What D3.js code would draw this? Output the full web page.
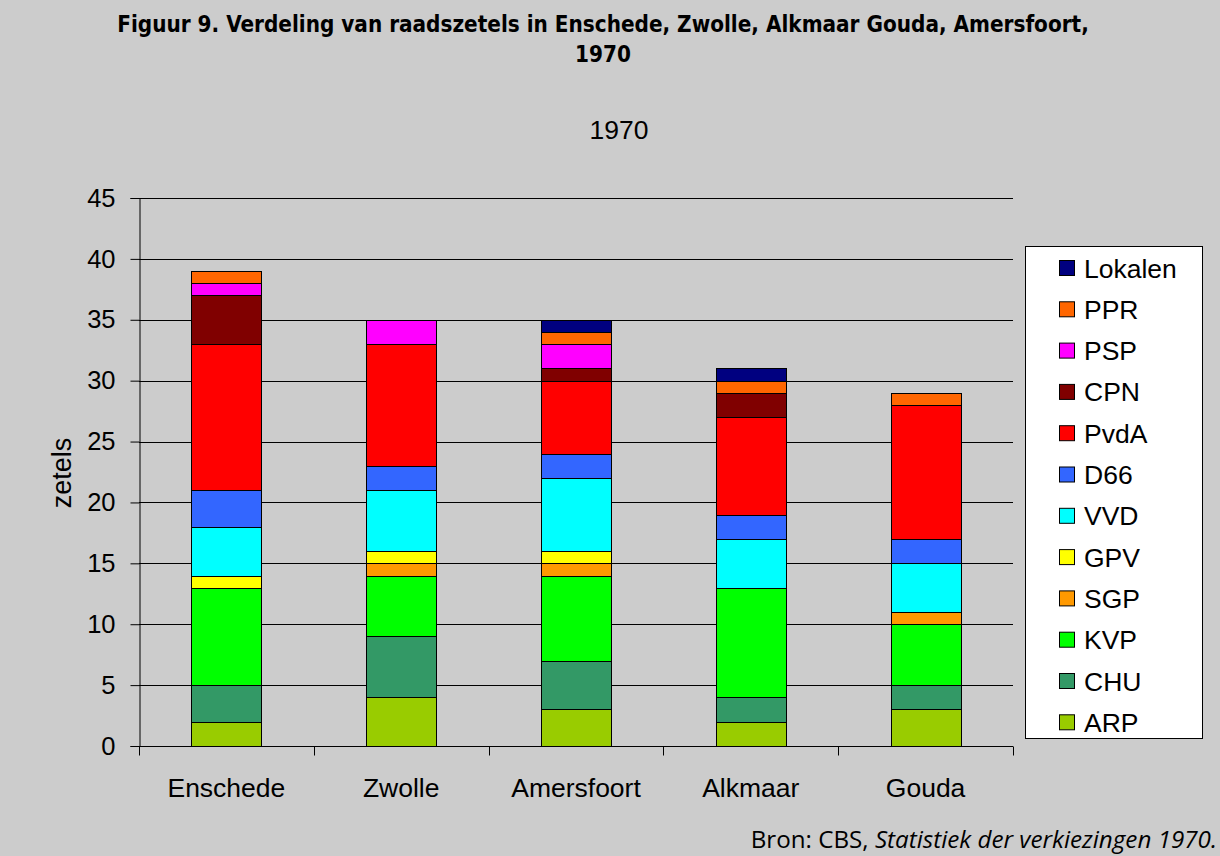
<!DOCTYPE html>
<html>
<head>
<meta charset="utf-8">
<script src="https://cdn.jsdelivr.net/npm/d3@7"></script>
<style>
  body { margin: 0; background: #cccccc; }
  svg { display: block; }
</style>
</head>
<body>
<div id="chart_div"></div>
<script>

/*
 * Data
 */
var gvCities = ['Enschede', 'Zwolle', 'Amersfoort', 'Alkmaar', 'Gouda'];
var gvParties = ['ARP', 'CHU', 'KVP', 'SGP', 'GPV', 'VVD', 'D66', 'PvdA', 'CPN', 'PSP', 'PPR', 'Lokalen'];
var gvColours = ['#99cc00', '#339966', '#00ff00', '#ff9900', '#ffff00', '#00ffff', '#3366ff', '#ff0000', '#800000', '#ff00ff', '#ff6600', '#000080'];

// seats per party, one value per city (same order as gvCities)
var gvARP     = [2, 4, 3, 2, 3];
var gvCHU     = [3, 5, 4, 2, 2];
var gvKVP     = [8, 5, 7, 9, 5];
var gvSGP     = [0, 1, 1, 0, 1];
var gvGPV     = [1, 1, 1, 0, 0];
var gvVVD     = [4, 5, 6, 4, 4];
var gvD66     = [3, 2, 2, 2, 2];
var gvPvdA    = [12, 10, 6, 8, 11];
var gvCPN     = [4, 0, 1, 2, 0];
var gvPSP     = [1, 2, 2, 0, 0];
var gvPPR     = [1, 0, 1, 1, 1];
var gvLokalen = [0, 0, 1, 1, 0];

var gvYTicks = [0, 5, 10, 15, 20, 25, 30, 35, 40, 45];

/*
 * Build the chart
 */
function buildChart() {

  var seriesValues = [gvARP, gvCHU, gvKVP, gvSGP, gvGPV, gvVVD, gvD66, gvPvdA, gvCPN, gvPSP, gvPPR, gvLokalen];

  // table for d3.stack
  var rows = gvCities.map(function(city, i) {
    var row = { city: city };
    gvParties.forEach(function(p, j) { row[p] = seriesValues[j][i]; });
    return row;
  });

  var width = 1220, height = 856;
  var plot = { left: 139, right: 1013, top: 198, bottom: 746 };
  var axisFont = 'Liberation Sans, Arial, sans-serif';

  var svg = d3.select('#chart_div').append('svg')
    .attr('width', width)
    .attr('height', height);

  svg.append('rect')
    .attr('width', width).attr('height', height)
    .attr('fill', '#cccccc');

  var x = d3.scaleBand()
    .domain(gvCities)
    .range([plot.left, plot.right])
    .paddingInner(0.6)
    .paddingOuter(0.3);

  var y = d3.scaleLinear()
    .domain([0, 45])
    .range([plot.bottom, plot.top]);

  var colour = d3.scaleOrdinal().domain(gvParties).range(gvColours);

  // gridlines
  svg.append('g')
    .selectAll('line')
    .data(gvYTicks.slice(1))
    .enter().append('line')
    .attr('x1', plot.left).attr('x2', plot.right)
    .attr('y1', function(d) { return Math.round(y(d)) + 0.5; })
    .attr('y2', function(d) { return Math.round(y(d)) + 0.5; })
    .attr('stroke', '#000')
    .attr('stroke-width', 1);

  // stacked bars
  var stack = d3.stack().keys(gvParties)(rows);

  svg.append('g')
    .selectAll('g')
    .data(stack)
    .enter().append('g')
    .attr('fill', function(d) { return colour(d.key); })
    .selectAll('rect')
    .data(function(d) { return d.filter(function(s) { return s[1] > s[0]; }); })
    .enter().append('rect')
    .attr('x', function(d) { return Math.round(x(d.data.city)) + 0.5; })
    .attr('width', Math.round(x.bandwidth()))
    .attr('y', function(d) { return Math.round(y(d[1])) + 0.5; })
    .attr('height', function(d) { return Math.round(y(d[0])) - Math.round(y(d[1])); })
    .attr('stroke', '#000')
    .attr('stroke-width', 1);

  // y axis
  var yAxis = svg.append('g')
    .attr('transform', 'translate(' + (plot.left + 0.5) + ',0)')
    .call(d3.axisLeft(y).tickValues(gvYTicks).tickSize(9).tickPadding(15));
  yAxis.select('.domain').attr('stroke', '#000');
  yAxis.selectAll('.tick line').attr('stroke', '#000');
  yAxis.selectAll('text')
    .attr('font-family', axisFont)
    .attr('font-size', 25.5)
    .attr('fill', '#000');

  // x axis: ticks between categories
  var xAxis = svg.append('g')
    .attr('transform', 'translate(0,' + (plot.bottom + 0.5) + ')');
  xAxis.append('line')
    .attr('x1', plot.left).attr('x2', plot.right)
    .attr('stroke', '#000');
  var step = x.step();
  var bounds = d3.range(gvCities.length + 1).map(function(i) {
    return x(gvCities[0]) - (step - x.bandwidth()) / 2 + i * step;
  });
  xAxis.selectAll('line.tk')
    .data(bounds)
    .enter().append('line')
    .attr('class', 'tk')
    .attr('x1', function(d) { return Math.round(d) + 0.5; })
    .attr('x2', function(d) { return Math.round(d) + 0.5; })
    .attr('y1', 0).attr('y2', 9)
    .attr('stroke', '#000');
  xAxis.selectAll('text')
    .data(gvCities)
    .enter().append('text')
    .attr('x', function(d) { return x(d) + x.bandwidth() / 2; })
    .attr('y', 50)
    .attr('text-anchor', 'middle')
    .attr('font-family', axisFont)
    .attr('font-size', 26.5)
    .text(function(d) { return d; });

  // y label
  svg.append('text')
    .attr('transform', 'translate(71,473) rotate(-90)')
    .attr('text-anchor', 'middle')
    .attr('font-family', axisFont)
    .attr('font-size', 27)
    .text('zetels');

  // titles
  var titleFont = 'Liberation Sans Narrow, DejaVu Sans Condensed, Arial Narrow, sans-serif';
  svg.append('text')
    .attr('x', 603).attr('y', 32)
    .attr('text-anchor', 'middle')
    .attr('font-family', titleFont)
    .attr('font-weight', 'bold')
    .attr('font-size', 22.3)
    .text('Figuur 9. Verdeling van raadszetels in Enschede, Zwolle, Alkmaar Gouda, Amersfoort,');
  svg.append('text')
    .attr('x', 603).attr('y', 62)
    .attr('text-anchor', 'middle')
    .attr('font-family', titleFont)
    .attr('font-weight', 'bold')
    .attr('font-size', 22.3)
    .text('1970');

  svg.append('text')
    .attr('x', 619).attr('y', 139)
    .attr('text-anchor', 'middle')
    .attr('font-family', axisFont)
    .attr('font-size', 26.5)
    .text('1970');

  // legend
  var legend = svg.append('g');
  legend.append('rect')
    .attr('x', 1025.5).attr('y', 246.5)
    .attr('width', 177).attr('height', 492)
    .attr('fill', '#fff')
    .attr('stroke', '#000');

  var legendOrder = gvParties.slice().reverse();
  var item = legend.selectAll('g.item')
    .data(legendOrder)
    .enter().append('g')
    .attr('class', 'item')
    .attr('transform', function(d, i) { return 'translate(1059,' + (268 + i * 41.3) + ')'; });
  item.append('rect')
    .attr('x', 0.5).attr('y', -7.5)
    .attr('width', 15).attr('height', 15)
    .attr('fill', function(d) { return colour(d); })
    .attr('stroke', '#000');
  item.append('text')
    .attr('x', 25).attr('y', 9.5)
    .attr('font-family', axisFont)
    .attr('font-size', 26.5)
    .text(function(d) { return d; });

  // source
  var src = svg.append('text')
    .attr('x', 1217).attr('y', 848)
    .attr('text-anchor', 'end')
    .attr('font-family', 'Open Sans, Noto Sans, sans-serif')
    .attr('font-size', 24.2);
  src.append('tspan').text('Bron: CBS, ');
  src.append('tspan').attr('font-style', 'italic').text('Statistiek der verkiezingen 1970.');
}

buildChart();

</script>
</body>
</html>
